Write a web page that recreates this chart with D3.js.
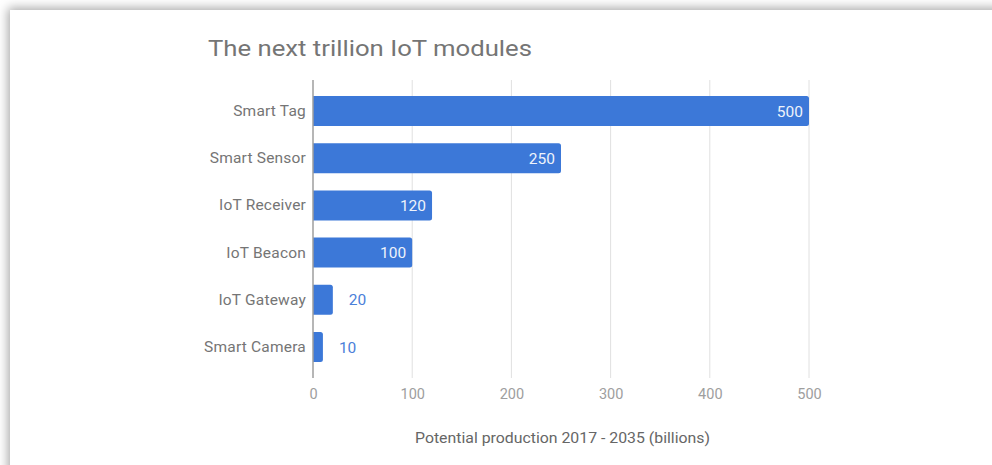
<!DOCTYPE html>
<html>
<head>
<meta charset="utf-8">
<script src="https://cdn.jsdelivr.net/npm/d3@7"></script>
<style>
  body { margin: 0; background: #fff; overflow: hidden; }
  #card {
    position: absolute; left: 10px; top: 10px; width: 1100px; height: 600px;
    background: #fff; box-shadow: -2px -2px 10px rgba(0,0,0,0.35);
  }
  svg { position: absolute; left: 0; top: 0; }
  text { font-family: Roboto, "Noto Sans", sans-serif; }
</style>
</head>
<body>
<div id="card"></div>
<svg id="chart" width="992" height="465"></svg>
<script>
// data
const categories = ['Smart Tag', 'Smart Sensor', 'IoT Receiver', 'IoT Beacon', 'IoT Gateway', 'Smart Camera'];
const values = [500, 250, 120, 100, 20, 10];
const xTicks = [0, 100, 200, 300, 400, 500];
const chartTitle = 'The next trillion IoT modules';
const xTitle = 'Potential production 2017 - 2035 (billions)';

const data = categories.map((c, i) => ({ name: c, value: values[i] }));

const svg = d3.select('#chart');

const x = d3.scaleLinear()
    .domain([0, 500])
    .range([313, 809]);

const y = d3.scaleBand()
    .domain(categories)
    .range([80, 378])
    .paddingInner(0.365)
    .paddingOuter(0.34);

// title
svg.append('text')
    .attr('x', 208)
    .attr('y', 56)
    .attr('fill', '#757575')
    .attr('font-size', 22)
    .attr('textLength', 324)
    .attr('lengthAdjust', 'spacingAndGlyphs')
    .text(chartTitle);

// gridlines
svg.append('g').selectAll('line')
    .data(xTicks.slice(1))
    .enter()
    .append('line')
    .attr('x1', d => x(d))
    .attr('x2', d => x(d))
    .attr('y1', 80)
    .attr('y2', 378)
    .attr('stroke', '#e0e0e0')
    .attr('stroke-width', 1);

// bars
svg.append('g').selectAll('path')
    .data(data)
    .enter()
    .append('path')
    .attr('fill', '#3c78d8')
    .attr('d', d => {
        const x0 = x(0), x1 = x(d.value), y0 = y(d.name), h = y.bandwidth(), r = 2.5;
        return `M${x0},${y0}H${x1 - r}Q${x1},${y0} ${x1},${y0 + r}V${y0 + h - r}Q${x1},${y0 + h} ${x1 - r},${y0 + h}H${x0}Z`;
    });

// value labels
svg.append('g').selectAll('text')
    .data(data)
    .enter()
    .append('text')
    .attr('x', d => d.value >= 50 ? x(d.value) - 6 : x(d.value) + 16)
    .attr('y', d => y(d.name) + y.bandwidth() / 2)
    .attr('dy', '0.36em')
    .attr('text-anchor', d => d.value >= 50 ? 'end' : 'start')
    .attr('fill', d => d.value >= 50 ? '#eef3fb' : '#4a80d9')
    .attr('font-size', 15.5)
    .text(d => d.value);

// zero axis line
svg.append('line')
    .attr('x1', x(0))
    .attr('x2', x(0))
    .attr('y1', 80)
    .attr('y2', 378)
    .attr('stroke', '#9e9e9e')
    .attr('stroke-width', 1.5);

// y axis labels
const yAxis = svg.append('g')
    .attr('transform', `translate(${x(0) - 7},0)`)
    .call(d3.axisLeft(y).tickSize(0).tickPadding(0));
yAxis.select('.domain').remove();
yAxis.selectAll('text')
    .attr('fill', '#757575')
    .attr('font-size', 15.5)
    .attr('letter-spacing', 0.2)
    .attr('font-family', 'Roboto, "Noto Sans", sans-serif');

// x axis labels
const xAxis = svg.append('g')
    .attr('transform', 'translate(0,383)')
    .call(d3.axisBottom(x).tickValues(xTicks).tickSize(0).tickPadding(6));
xAxis.select('.domain').remove();
xAxis.selectAll('text')
    .attr('fill', '#9e9e9e')
    .attr('font-size', 14.5)
    .attr('font-family', 'Roboto, "Noto Sans", sans-serif');

// x axis title
svg.append('text')
    .attr('x', 415)
    .attr('y', 443)
    .attr('fill', '#666')
    .attr('font-size', 15)
    .attr('textLength', 295)
    .attr('lengthAdjust', 'spacingAndGlyphs')
    .text(xTitle);
</script>
</body>
</html>
